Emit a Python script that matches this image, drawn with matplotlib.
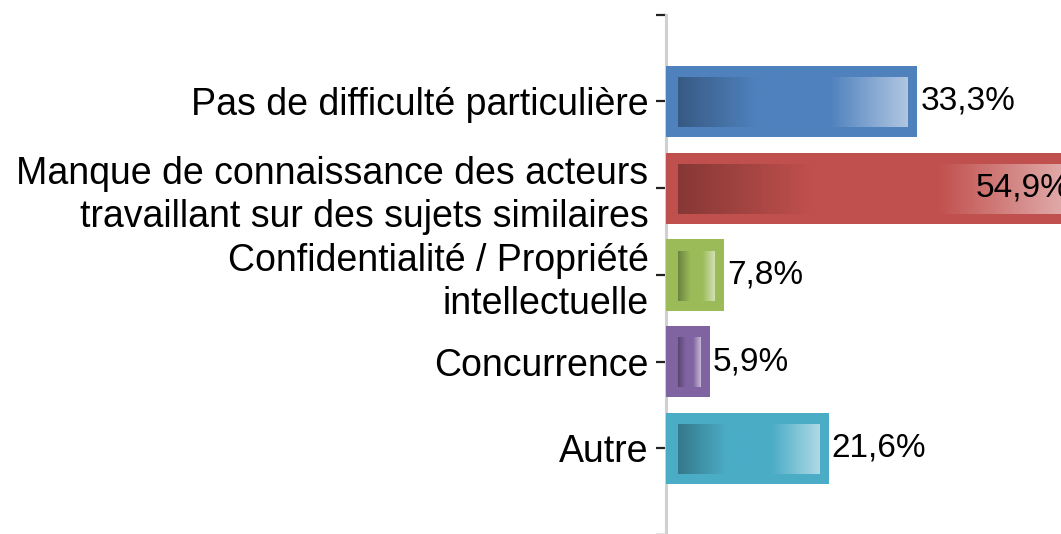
import numpy as np
import matplotlib.pyplot as plt
from matplotlib.colors import to_rgb

plt.rcParams['font.family'] = ['Liberation Sans', 'DejaVu Sans']

categories = ["Pas de difficulté particulière",
              "Manque de connaissance des acteurs\ntravaillant sur des sujets similaires",
              "Confidentialité / Propriété\nintellectuelle",
              "Concurrence",
              "Autre"]
values = [33.3, 54.9, 7.8, 5.9, 21.6]
value_labels = ["33,3%", "54,9%", "7,8%", "5,9%", "21,6%"]
colors = ["#4F81BD", "#C0504D", "#9BBB59", "#8064A2", "#4BACC6"]


def ramp(c, n=300):
    # dark on the left, flat middle, pale on the right (Excel 2007 bevel look)
    base = np.array(to_rgb(c))
    dark = base * 0.7
    light = base + (1 - base) * 0.55
    t = np.linspace(0, 1, n)[:, None]
    out = np.where(t < 0.34, dark + (base - dark) * (t / 0.34), base)
    out = np.where(t > 0.66, base + (light - base) * ((t - 0.66) / 0.34), out)
    return out[None, :, :]


W, H = 1061, 534
fig = plt.figure(figsize=(W / 100, H / 100), dpi=100)
# the source is a cropped chart: plot area runs past right and bottom edges
ax = fig.add_axes([665.5 / W, (534 - 578.6) / H, 453.6 / W, 563.9 / H])
xmax, ylo, yhi = 60, 5.5, -1
ax.set_xlim(0, xmax)
ax.set_ylim(ylo, yhi)

bb = ax.get_window_extent()
sx = bb.width / xmax
sy = bb.height / (ylo - yhi)

y = np.arange(len(categories))
h = 0.82
ax.barh(y, values, height=h, color=colors, zorder=3)

for yi, v, c, lab in zip(y, values, colors, value_labels):
    ax.imshow(ramp(c), extent=(12 / sx, v - 10 / sx, yi + h / 2 - 10 / sy, yi - h / 2 + 12 / sy),
              aspect='auto', interpolation='bilinear', zorder=4)
    if v > 50:
        # no room past the end: Excel puts it inside the bar
        ax.annotate(lab, xy=(v, yi), xytext=(-10, 0), textcoords='offset pixels',
                    ha='right', va='center', fontsize=24, color='black', zorder=5,
                    annotation_clip=False)
    else:
        ax.annotate(lab, xy=(v, yi), xytext=(3, 0), textcoords='offset pixels',
                    ha='left', va='center', fontsize=24, color='black', zorder=5)

ax.set_xlim(0, xmax)
ax.set_ylim(ylo, yhi)

ax.set_yticks(np.arange(-1, 6))
ax.set_yticklabels([''] + categories + [''], fontsize=27)
for lbl in ax.get_yticklabels():
    lbl.set_linespacing(1.26)
ax.tick_params(axis='y', length=7.2, width=1.6, pad=5, color='#222222')
ax.set_xticks([])
for s in ['top', 'right', 'bottom']:
    ax.spines[s].set_visible(False)
ax.spines['left'].set_color('#d0d0d0')
ax.spines['left'].set_linewidth(2.2)

fig.savefig('out.png', dpi=100)
